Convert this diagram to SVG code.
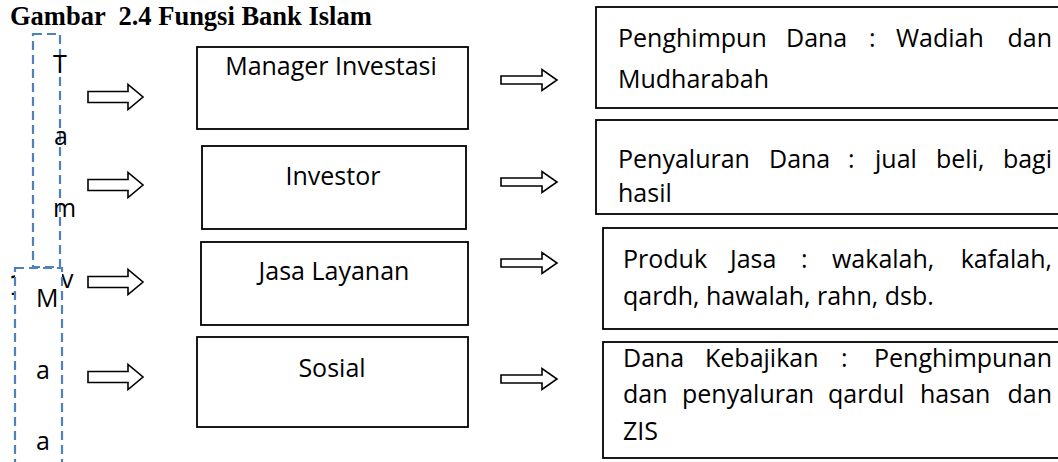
<svg xmlns="http://www.w3.org/2000/svg" width="1058" height="462" viewBox="0 0 1058 462">
<style>
.t{font-family:"Open Sans","Noto Sans",sans-serif;font-size:25px;fill:#000}
.c{text-anchor:middle}
.e{text-anchor:end}
.box{fill:#fff;stroke:#000;stroke-width:1.8}
.dash{fill:#fff;stroke:#4F81BD;stroke-width:2.2;stroke-dasharray:9 5}
.arr{fill:#fff;stroke:#000;stroke-width:1.6;stroke-linejoin:miter}
.title{font-family:"Liberation Serif","Times New Roman",serif;font-weight:bold;font-size:26.5px;white-space:pre}
</style>
<defs>
<path id="la" d="M0,-5.5 H40 V-12.5 L55,0 L40,12.5 V5.5 H0 Z"/>
<path id="ra" d="M0,-4 H41 V-10.5 L56,0 L41,10.5 V4 H0 Z"/>
</defs>
<rect width="1058" height="462" fill="#fff"/>
<text class="title" x="10" y="25" xml:space="preserve">Gambar  2.4 Fungsi Bank Islam</text>

<g id="tamwil">
<rect class="dash" x="33" y="34" width="27" height="233" style="fill:none"/>
<text class="t" x="53" y="73">T</text>
<text class="t" x="54" y="145">a</text>
<text class="t" x="53" y="217">m</text>
<text class="t" x="61" y="288">v</text>
</g>
<g id="frag">
<text x="8.5" y="295" style="font-family:'DejaVu Sans',sans-serif;font-size:26px">1</text>
</g>
<g id="maal">
<rect class="dash" x="15" y="268" width="47" height="200"/>
<text class="t" x="36" y="307">M</text>
<text class="t" x="36" y="379">a</text>
<text class="t" x="36" y="450">a</text>
</g>

<g id="manager">
<rect class="box" x="197" y="47" width="271" height="82"/>
<text class="t c" x="331" y="75">Manager Investasi</text>
</g>
<g id="investor">
<rect class="box" x="202" y="146" width="264" height="83"/>
<text class="t c" x="333" y="185">Investor</text>
</g>
<g id="jasa">
<rect class="box" x="201" y="242" width="267" height="83"/>
<text class="t c" x="334" y="280">Jasa Layanan</text>
</g>
<g id="sosial">
<rect class="box" x="197" y="337" width="271" height="90"/>
<text class="t c" x="332" y="377">Sosial</text>
</g>

<g id="penghimpun">
<rect class="box" x="596" y="7" width="470" height="101"/>
<text class="t" x="618" y="47">Penghimpun</text>
<text class="t" x="786" y="47">Dana</text>
<text class="t" x="869" y="47">:</text>
<text class="t" x="896" y="47">Wadiah</text>
<text class="t e" x="1052" y="47">dan</text>
<text class="t" x="618" y="88">Mudharabah</text>
</g>
<g id="penyaluran">
<rect class="box" x="596" y="120" width="470" height="94"/>
<text class="t" x="618" y="168">Penyaluran</text>
<text class="t" x="769" y="168">Dana</text>
<text class="t" x="848" y="168">:</text>
<text class="t" x="875" y="168">jual</text>
<text class="t" x="936" y="168">beli,</text>
<text class="t e" x="1052" y="168">bagi</text>
<text class="t" x="618" y="202">hasil</text>
</g>
<g id="produk">
<rect class="box" x="603" y="228" width="463" height="101"/>
<text class="t" x="623" y="268">Produk</text>
<text class="t" x="730" y="268">Jasa</text>
<text class="t" x="801" y="268">:</text>
<text class="t" x="832" y="268">wakalah,</text>
<text class="t e" x="1052" y="268">kafalah,</text>
<text class="t" x="623" y="305">qardh, hawalah, rahn, dsb.</text>
</g>
<g id="kebajikan">
<rect class="box" x="603" y="342" width="463" height="116"/>
<text class="t" x="623" y="367">Dana</text>
<text class="t" x="705" y="367">Kebajikan</text>
<text class="t" x="841" y="367">:</text>
<text class="t e" x="1052" y="367">Penghimpunan</text>
<text class="t" x="623" y="403">dan</text>
<text class="t" x="682" y="403">penyaluran</text>
<text class="t" x="828" y="403">qardul</text>
<text class="t" x="920" y="403">hasan</text>
<text class="t e" x="1052" y="403">dan</text>
<text class="t" x="623" y="440">ZIS</text>
</g>

<g id="connectors">
<use href="#la" class="arr" x="88" y="97"/>
<use href="#la" class="arr" x="88" y="185"/>
<use href="#la" class="arr" x="88" y="282"/>
<use href="#la" class="arr" x="88" y="377"/>
<use href="#ra" class="arr" x="501" y="80"/>
<use href="#ra" class="arr" x="501" y="182"/>
<use href="#ra" class="arr" x="501" y="263"/>
<use href="#ra" class="arr" x="501" y="379"/>
</g>
</svg>
